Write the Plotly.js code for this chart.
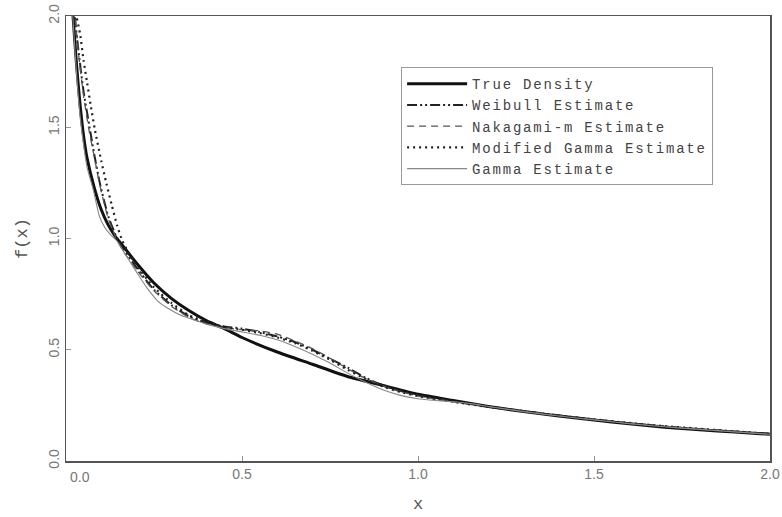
<!DOCTYPE html>
<html>
<head>
<meta charset="utf-8">
<script src="https://cdn.plot.ly/plotly-3.0.1.min.js"></script>
<style>
html,body{margin:0;padding:0;background:#fff;}
#chart{width:782px;height:517px;}
.legendtext{letter-spacing:1.8px;}
</style>
</head>
<body>
<div id="chart"></div>
<script>
// ---- data ----
const seriesNames = ["True Density", "Weibull Estimate", "Nakagami-m Estimate", "Modified Gamma Estimate", "Gamma Estimate"];

const trueX = [0.012, 0.02, 0.03, 0.04, 0.05, 0.06, 0.08, 0.1, 0.12, 0.14, 0.16, 0.2, 0.25, 0.3, 0.35, 0.4, 0.45, 0.5, 0.6, 0.7, 0.8, 0.9, 1.0, 1.1, 1.2, 1.3, 1.4, 1.5, 1.6, 1.7, 1.8, 1.9, 2.0];
const trueY = [2.2, 2.0, 1.78, 1.6, 1.46, 1.36, 1.23, 1.13, 1.06, 1.01, 0.97, 0.89, 0.8, 0.73, 0.675, 0.63, 0.595, 0.555, 0.49, 0.435, 0.38, 0.34, 0.30, 0.272, 0.245, 0.222, 0.202, 0.184, 0.167, 0.152, 0.14, 0.13, 0.12];

const weibullX = [0.02, 0.025, 0.035, 0.05, 0.067, 0.08, 0.096, 0.12, 0.14, 0.16, 0.2, 0.25, 0.3, 0.35, 0.4, 0.45, 0.5, 0.55, 0.6, 0.65, 0.7, 0.75, 0.8, 0.85, 0.9, 0.95, 1.0, 1.1, 1.2, 1.3, 1.4, 1.5, 1.6, 1.7, 1.8, 1.9, 2.0];
const weibullY = [2.2, 2.0, 1.85, 1.66, 1.5, 1.38, 1.25, 1.1, 1.02, 0.96, 0.87, 0.77, 0.70, 0.65, 0.62, 0.605, 0.595, 0.58, 0.56, 0.535, 0.50, 0.46, 0.42, 0.375, 0.34, 0.315, 0.295, 0.268, 0.245, 0.225, 0.205, 0.186, 0.17, 0.155, 0.143, 0.132, 0.122];

const nakagamiX = [0.02, 0.026, 0.035, 0.05, 0.065, 0.08, 0.096, 0.12, 0.14, 0.16, 0.2, 0.25, 0.3, 0.35, 0.4, 0.45, 0.5, 0.55, 0.6, 0.65, 0.7, 0.75, 0.8, 0.85, 0.9, 0.95, 1.0, 1.1, 1.2, 1.3, 1.4, 1.5, 1.6, 1.7, 1.8, 1.9, 2.0];
const nakagamiY = [2.2, 2.0, 1.84, 1.64, 1.49, 1.37, 1.24, 1.09, 1.01, 0.95, 0.86, 0.765, 0.695, 0.645, 0.615, 0.60, 0.59, 0.585, 0.57, 0.54, 0.505, 0.462, 0.415, 0.372, 0.338, 0.312, 0.292, 0.266, 0.244, 0.224, 0.204, 0.186, 0.17, 0.156, 0.143, 0.132, 0.121];

const modGammaX = [0.025, 0.03, 0.04, 0.05, 0.06, 0.07, 0.082, 0.1, 0.115, 0.13, 0.145, 0.16, 0.18, 0.2, 0.25, 0.3, 0.35, 0.4, 0.45, 0.5, 0.55, 0.6, 0.65, 0.7, 0.75, 0.8, 0.85, 0.9, 0.95, 1.0, 1.1, 1.2, 1.3, 1.4, 1.5, 1.6, 1.7, 1.8, 1.9, 2.0];
const modGammaY = [2.15, 2.0, 1.92, 1.8, 1.7, 1.6, 1.49, 1.35, 1.246, 1.15, 1.06, 0.99, 0.93, 0.88, 0.78, 0.71, 0.655, 0.625, 0.60, 0.59, 0.575, 0.555, 0.53, 0.495, 0.455, 0.41, 0.37, 0.335, 0.31, 0.292, 0.266, 0.243, 0.223, 0.204, 0.187, 0.171, 0.157, 0.145, 0.133, 0.122];

const gammaX = [0.012, 0.02, 0.03, 0.04, 0.05, 0.06, 0.078, 0.095, 0.11, 0.125, 0.144, 0.16, 0.18, 0.2, 0.229, 0.26, 0.286, 0.32, 0.352, 0.4, 0.45, 0.5, 0.55, 0.6, 0.65, 0.7, 0.75, 0.8, 0.85, 0.9, 0.95, 1.0, 1.05, 1.1, 1.15, 1.2, 1.3, 1.4, 1.5, 1.6, 1.7, 1.8, 1.9, 2.0];
const gammaY = [2.2, 1.98, 1.74, 1.55, 1.42, 1.32, 1.215, 1.10, 1.05, 1.02, 0.99, 0.95, 0.90, 0.85, 0.78, 0.72, 0.69, 0.66, 0.64, 0.615, 0.595, 0.58, 0.565, 0.545, 0.515, 0.48, 0.44, 0.395, 0.355, 0.32, 0.295, 0.28, 0.272, 0.266, 0.258, 0.245, 0.222, 0.202, 0.185, 0.168, 0.154, 0.142, 0.131, 0.12];

const xTickVals = [0, 0.5, 1.0, 1.5, 2.0];
const xTickText = ["0.0", "0.5", "1.0", "1.5", "2.0"];
const yTickVals = [0, 0.5, 1.0, 1.5, 2.0];
const yTickText = ["0.0", "0.5", "1.0", "1.5", "2.0"];
const xTitle = "x";
const yTitle = "f(x)";

// ---- traces ----
const traces = [
  {x: trueX, y: trueY, name: seriesNames[0], mode: "lines", line: {color: "#111", width: 3, shape: "spline", smoothing: 0.6}},
  {x: weibullX, y: weibullY, name: seriesNames[1], mode: "lines", line: {color: "#222", width: 2, dash: "10px,3px,2px,3px,2px,3px", shape: "spline", smoothing: 0.6}},
  {x: nakagamiX, y: nakagamiY, name: seriesNames[2], mode: "lines", line: {color: "#555", width: 1.3, dash: "7px,5px", shape: "spline", smoothing: 0.6}},
  {x: modGammaX, y: modGammaY, name: seriesNames[3], mode: "lines", line: {color: "#222", width: 2.2, dash: "2px,4px", shape: "spline", smoothing: 0.6}},
  {x: gammaX, y: gammaY, name: seriesNames[4], mode: "lines", line: {color: "#888", width: 1.1, shape: "spline", smoothing: 0.6}}
];

const tickFont = {family: "Liberation Sans, Arial, sans-serif", size: 14, color: "#777"};
const titleFont = {family: "Liberation Mono, Courier New, monospace", size: 17, color: "#555"};

const layout = {
  width: 782, height: 517,
  margin: {l: 66, r: 12, t: 16, b: 56},
  paper_bgcolor: "#fff", plot_bgcolor: "#fff",
  showlegend: true,
  xaxis: {
    range: [0, 2], autorange: false,
    tickvals: xTickVals.slice(1), ticktext: xTickText.slice(1),
    ticks: "inside", ticklen: 5, tickcolor: "#999", tickwidth: 1,
    showline: true, linecolor: "#555", linewidth: 1.5, mirror: true,
    showgrid: false, zeroline: false,
    tickfont: tickFont,
    title: {text: xTitle, font: titleFont, standoff: 16}
  },
  yaxis: {
    range: [0, 2], autorange: false,
    tickvals: yTickVals, ticktext: yTickText, tickangle: -90,
    ticks: "inside", ticklen: 5, tickcolor: "#999", tickwidth: 1,
    showline: true, linecolor: "#555", linewidth: 1.5, mirror: true,
    showgrid: false, zeroline: false,
    tickfont: tickFont,
    title: {text: yTitle, font: titleFont, standoff: 14}
  },
  legend: {
    x: 0.476, y: 0.885, xanchor: "left", yanchor: "top",
    bgcolor: "#fff", bordercolor: "#999", borderwidth: 1,
    font: {family: "Liberation Mono, Courier New, monospace", size: 14, color: "#444"},
    itemwidth: 60, tracegroupgap: 0
  },
  annotations: [
    {x: xTickVals[0], y: 0, xref: "x", yref: "paper", text: xTickText[0], showarrow: false,
     xanchor: "center", yanchor: "top", xshift: 14, yshift: -6, font: tickFont}
  ]
};

Plotly.newPlot("chart", traces, layout, {displayModeBar: false, staticPlot: true});
</script>
</body>
</html>
